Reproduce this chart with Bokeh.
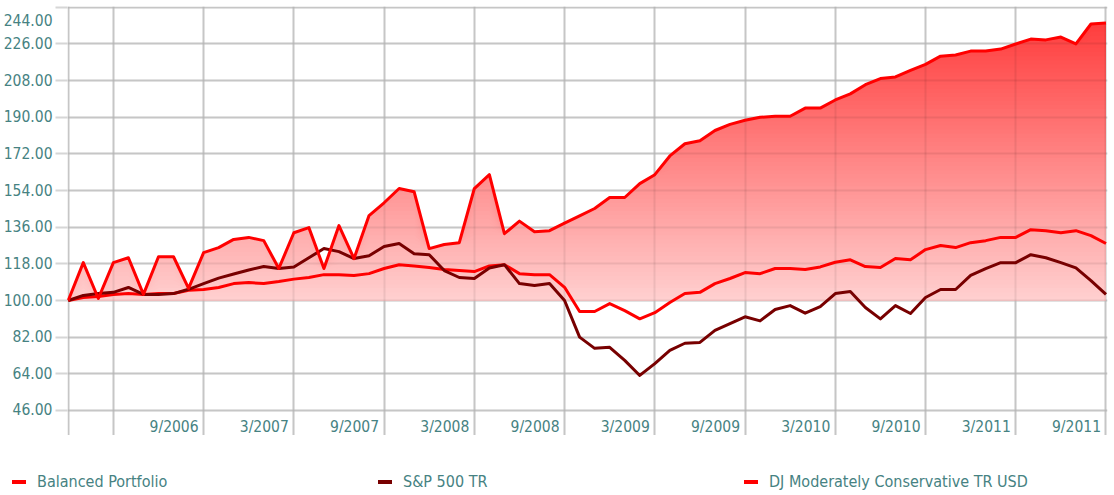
import html
import numpy as np
from bokeh.plotting import figure
from bokeh.models import Range1d, FixedTicker, Grid, NumeralTickFormatter, Div
from bokeh.layouts import column
from bokeh.embed import file_html
from bokeh.resources import INLINE
from bokeh.core.properties import value

# ---------------- data ----------------
months = ["12/2005"] + [f"{m}/{y}" for y in range(2006, 2012) for m in range(1, 13)][:69]

balanced = [100, 118.6, 101, 118.6, 121, 103, 121.5, 121.5, 106, 123.5,
            126, 130, 131, 129.4, 115.7, 133.3, 135.8, 115.7, 136.8, 120.6,
            141.7, 148, 155, 153.4, 125.5, 127.5, 128.4, 155, 161.8, 132.8,
            139, 133.8, 134.3, 138, 141.6, 145.2, 150.6, 150.6, 157.4, 161.8,
            171, 177, 178.5, 183.5, 186.5, 188.5, 190, 190.5, 190.5, 194.5,
            194.5, 198.5, 201.5, 206, 209, 209.8, 213, 216, 220, 220.6,
            222.5, 222.5, 223.5, 226, 228.4, 228, 229.4, 226, 235.8, 236.3]

sp500 = [100, 102.5, 103.4, 104, 106.4, 103, 103, 103.4, 105.5, 108.3,
         111, 113, 115, 116.7, 115.7, 116.5, 121, 125.5, 124, 120.6,
         122, 126.5, 128, 123, 122.5, 114.7, 111.3, 110.8, 116, 117.6,
         108.3, 107.4, 108.3, 100, 82, 76.5, 77, 70.6, 63.2, 69,
         75.5, 79, 79.4, 85.3, 88.7, 92, 90, 95.6, 97.5, 93.8,
         97, 103.4, 104.4, 96.6, 91, 97.5, 93.6, 101.5, 105.4, 105.4,
         112.3, 115.7, 118.6, 118.6, 122.5, 121, 118.6, 116, 109.8, 103]

djmc = [100, 101.5, 102, 103, 103.4, 103, 103.4, 103.4, 105, 105.4,
        106.4, 108.3, 108.8, 108.3, 109.3, 110.5, 111.3, 112.7, 112.7, 112.3,
        113.2, 115.7, 117.6, 117, 116.2, 115.2, 114.7, 114.2, 117, 117.6,
        113.2, 112.7, 112.7, 106.5, 94.6, 94.6, 98.5, 95, 91, 94,
        99, 103.4, 104, 108.3, 110.8, 113.7, 113.2, 115.7, 115.7, 115.2,
        116.5, 118.8, 120, 116.7, 116.2, 120.6, 120, 125, 127, 126,
        128.4, 129.4, 131, 131, 134.8, 134.3, 133.3, 134.3, 131.9, 128]

series_names = ["Balanced Portfolio", "S&P 500 TR", "DJ Moderately Conservative TR USD"]
series_colors = ["#ff0000", "#780000", "#ff0000"]

y_ticks = [46, 64, 82, 100, 118, 136, 154, 172, 190, 208, 226, 244]
x_tick_months = ["3/2006", "9/2006", "3/2007", "9/2007", "3/2008", "9/2008",
                 "3/2009", "9/2009", "3/2010", "9/2010", "3/2011", "9/2011"]
x_tick_labels = ["", "9/2006", "3/2007", "9/2007", "3/2008", "9/2008",
                 "3/2009", "9/2009", "3/2010", "9/2010", "3/2011", "9/2011"]

# ---------------- style ----------------
FONT = "DejaVu Sans Condensed"
TEAL = "#468282"
GRID = "#d6d6d6"
Y_MIN, Y_MAX = 33.7, 244.4
BASE = 100.0
FS = "15.5px"

x = np.arange(len(months))
bal = np.array(balanced, dtype=float)

p = figure(frame_width=1040, frame_height=429,
           x_range=Range1d(-0.05, len(months) - 1 + 0.1),
           y_range=Range1d(Y_MIN, Y_MAX),
           x_axis_location=None, toolbar_location=None, output_backend="svg",
           min_border_left=67, min_border_right=3, min_border_top=6, min_border_bottom=0,
           background_fill_color="white", border_fill_color="white")
p.outline_line_color = None

x_grid_ticks = [0] + [months.index(m) for m in x_tick_months]

# base grid (under the fill)
p.xgrid.ticker = FixedTicker(ticks=x_grid_ticks)
p.ygrid.ticker = FixedTicker(ticks=y_ticks)
for g in (p.xgrid, p.ygrid):
    g.grid_line_color = GRID
    g.grid_line_width = 2
    g.level = "image"

# translucent grid over the fill
for dim, ticks in ((0, x_grid_ticks), (1, y_ticks)):
    g2 = Grid(dimension=dim, ticker=FixedTicker(ticks=ticks),
              grid_line_color="black", grid_line_alpha=0.07, grid_line_width=2)
    g2.level = "glyph"
    p.add_layout(g2, "center")

# y axis (top label pushed below its gridline, as in the original)
ax = p.yaxis[0]
ax.ticker = FixedTicker(ticks=y_ticks)
ax.formatter = NumeralTickFormatter(format="0.00")
ax.major_label_overrides = {y_ticks[-1]: f"\n{y_ticks[-1]:.2f}"}
ax.major_label_text_line_height = 0.65
ax.axis_line_color = None
ax.major_tick_out = 12
ax.major_tick_in = 0
ax.major_tick_line_color = GRID
ax.major_tick_line_width = 2
ax.minor_tick_line_color = None
ax.major_label_standoff = 3
ax.major_label_text_font = FONT
ax.major_label_text_font_size = FS
ax.major_label_text_color = TEAL

# gradient fill under the Balanced Portfolio line (stacked bands)
def grad(v):
    g = int(round(np.clip(208 - (v - BASE) * 136.0 / 126.0, 40, 215)))
    return "#ff%02x%02x" % (g, g)

for t in np.arange(238.0, BASE, -2.0):
    p.varea(x=x, y1=np.full(len(x), BASE), y2=np.minimum(bal, t),
            fill_color=grad(t - 1.0), level="underlay")

# series lines
for vals, col in zip([djmc, sp500, balanced], [series_colors[2], series_colors[1], series_colors[0]]):
    p.line(x=x, y=vals, line_color=col, line_width=3, line_join="round", level="guide")

# x tick labels inside the plot area
lab_x = [months.index(m) for m, l in zip(x_tick_months, x_tick_labels) if l]
lab_t = [l for l in x_tick_labels if l]
p.text(x=lab_x, y=[Y_MIN] * len(lab_x), text=lab_t, text_align="right",
       text_baseline="middle", x_offset=-5, y_offset=-9,
       text_font=value(FONT), text_font_size=FS, text_color=TEAL, level="guide")

# ---------------- legend ----------------
leg_x = [12, 378, 744]
parts = []
for name, col, x0 in zip(series_names, series_colors, leg_x):
    parts.append(f'<span style="position:absolute;left:{x0}px;top:45px;width:14px;height:4px;'
                 f'background:{col};"></span>')
    parts.append(f'<span style="position:absolute;left:{x0 + 25}px;top:37px;line-height:20px;'
                 f'white-space:nowrap;">{html.escape(name)}</span>')
leg_html = ('<div style="position:relative;width:1110px;height:58px;'
            f'font-family:\'{FONT}\';font-size:16px;color:{TEAL};">' + "".join(parts) + "</div>")
leg = Div(text=leg_html, width=1110, height=58, margin=0)

layout = column(p, leg, spacing=0)
open("out.html", "w").write(file_html(layout, INLINE))
